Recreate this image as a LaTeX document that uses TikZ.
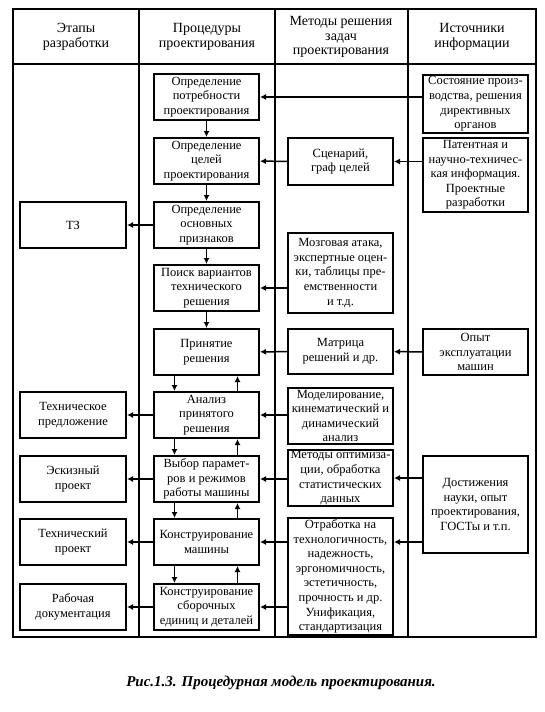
\documentclass[tikz,border=0pt]{standalone}
\usepackage{fontspec}
\setmainfont{Liberation Serif}
\usepackage{tikz}
\usetikzlibrary{arrows.meta,calc,positioning}

\begin{document}
\begin{tikzpicture}[x=1pt, y=-1pt,
    box/.style={draw, line width=2pt, align=center, inner sep=0.5pt,
      font=\fontsize{12.5}{14.6}\selectfont},
    proc/.style={box, minimum width=105pt, minimum height=46pt},
    head/.style={align=center, font=\fontsize{14}{14.5}\selectfont},
    arr/.style={line width=1.5pt, -{Latex[length=6pt,width=6pt]}}]
  \useasboundingbox (0,0) rectangle (544,712);

  % Table frame
  \draw[line width=2pt] (13,9) rectangle (536,637);
  \draw[line width=2pt] (13,64) -- (536,64);
  \foreach \cx in {139,275,408}
    \draw[line width=2pt] (\cx,9) -- (\cx,637);

  % Headers
  \node[head] (h1) at (76,37) {Этапы\\разработки};
  \node[head] (h2) at (207,37) {Процедуры\\проектирования};
  \node[head] (h3) at (341,37) {Методы решения\\задач\\проектирования};
  \node[head] (h4) at (472,37) {Источники\\информации};

  % Design procedures
  \node[proc] (p1) at (206.5,97) {Определение\\потребности\\проектирования};
  \node[proc] (p2) at (206.5,161) {Определение\\целей\\проектирования};
  \node[proc] (p3) at (206.5,225) {Определение\\основных\\признаков};
  \node[proc] (p4) at (206.5,288) {Поиск вариантов\\технического\\решения};
  \node[proc] (p5) at (206.5,352) {Принятие\\решения};
  \node[proc] (p6) at (206.5,415) {Анализ\\принятого\\решения};
  \node[proc] (p7) at (206.5,479) {Выбор парамет-\\ров и режимов\\работы машины};
  \node[proc] (p8) at (206.5,542) {Конструирование\\машины};
  \node[proc] (p9) at (206.5,607) {Конструирование\\сборочных\\единиц и деталей};

  % Development stages
  \node[proc, minimum width=106pt] (tz) at (73,225) {ТЗ};
  \node[proc, minimum width=106pt] (tp) at (73,415) {Техническое\\предложение};
  \node[proc, minimum width=106pt] (ep) at (73,479) {Эскизный\\проект};
  \node[proc, minimum width=106pt] (tpr) at (73,542) {Технический\\проект};
  \node[proc, minimum width=106pt] (rd) at (73,607) {Рабочая\\документация};

  % Methods
  \node[box, minimum width=105pt, minimum height=47pt] (m1) at (340.5,161.5) {Сценарий,\\граф целей};
  \node[box, minimum width=105pt, minimum height=80pt] (m2) at (340.5,273) {Мозговая атака,\\экспертные оцен-\\ки, таблицы пре-\\емственности\\и т.д.};
  \node[box, minimum width=105pt, minimum height=45pt] (m3) at (340.5,351.5) {Матрица\\решений и др.};
  \node[box, minimum width=105pt, minimum height=56pt] (m4) at (340.5,416) {Моделирование,\\кинематический и\\динамический\\анализ};
  \node[box, minimum width=105pt, minimum height=54pt] (m5) at (340.5,478) {Методы оптимиза-\\ции, обработка\\статистических\\данных};
  \node[box, minimum width=105pt, minimum height=117pt] (m6) at (340.5,576.5) {Отработка на\\технологичность,\\надежность,\\эргономичность,\\эстетичность,\\прочность и др.\\Унификация,\\стандартизация};

  % Information sources
  \node[box, minimum width=105pt, minimum height=58pt] (s1) at (475.5,104) {Состояние произ-\\водства, решения\\директивных\\органов};
  \node[box, minimum width=105pt, minimum height=74pt] (s2) at (475.5,175) {Патентная и\\научно-техничес-\\кая информация.\\Проектные\\разработки};
  \node[box, minimum width=105pt, minimum height=46pt] (s3) at (475.5,352) {Опыт\\эксплуатации\\машин};
  \node[box, minimum width=105pt, minimum height=97pt] (s4) at (475.5,504.5) {Достижения\\науки, опыт\\проектирования,\\ГОСТы и т.п.};

  % Main chain
  \draw[arr] (p1) -- (p2);
  \draw[arr] (p2) -- (p3);
  \draw[arr] (p3) -- (p4);
  \draw[arr] (p4) -- (p5);
  \foreach \a/\b in {p5/p6,p6/p7,p7/p8,p8/p9} {
    \draw[arr] ($(\a.south)+(-32,0)$) -- ($(\b.north)+(-32,0)$);
    \draw[arr] ($(\b.north)+(31,0)$) -- ($(\a.south)+(31,0)$);
  }

  % Outputs to stages
  \draw[arr] (p3) -- (tz);
  \draw[arr] (p6) -- (tp);
  \draw[arr] (p7) -- (ep);
  \draw[arr] (p8) -- (tpr);
  \draw[arr] (p9) -- (rd);

  % Sources and methods
  \draw[arr] (s1.west |- p1.east) -- (p1.east);
  \draw[arr] (s2.west |- m1.east) -- (m1.east);
  \draw[arr] (m1) -- (p2);
  \draw[arr] (m2.west |- p4.east) -- (p4.east);
  \draw[arr] (s3) -- (m3);
  \draw[arr] (m3) -- (p5);
  \draw[arr] (m4.west |- p6.east) -- (p6.east);
  \draw[arr] (s4.west |- m5.east) -- (m5.east);
  \draw[arr] (m5.west |- p7.east) -- (p7.east);
  \draw[arr] (s4.west |- p8.east) -- (m6.east |- p8.east);
  \draw[arr] (m6.west |- p8.east) -- (p8.east);
  \draw[arr] (m6.west |- p9.east) -- (p9.east);

  % Caption
  \node[font=\fontsize{15}{17}\selectfont\bfseries\itshape] (cap) at (281,683)
    {Рис.1.3. Процедурная модель проектирования.};
\end{tikzpicture}
\end{document}
